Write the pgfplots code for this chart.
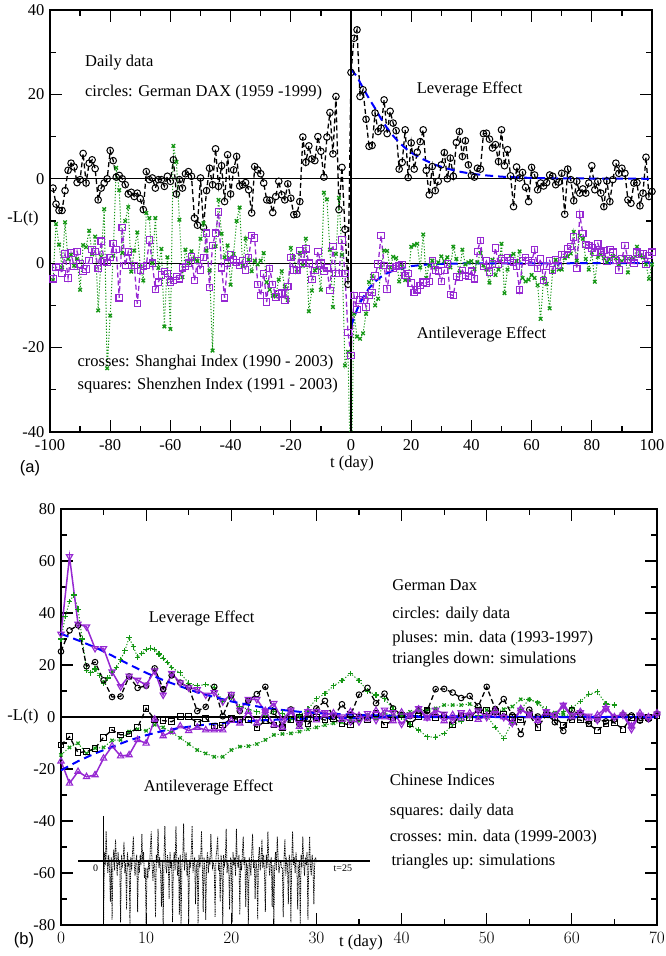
\documentclass[border=0pt]{standalone}
\usepackage{fontspec}
\setmainfont{Liberation Serif}
\newfontfamily\arialfont{Liberation Sans}
\usepackage{pgfplots}
\pgfplotsset{compat=1.18}
\usepackage{pgfplotstable}

\definecolor{grgreen}{RGB}{20,150,20}
\definecolor{grviolet}{RGB}{150,40,210}
\definecolor{grblue}{RGB}{0,0,255}

\pgfplotsset{
  grace/.style={scale only axis, axis line style={line width=1.6pt},
    every tick/.style={black, line width=1.2pt},
    major tick length=12pt, minor tick length=6pt, tick align=inside,
    xtick pos=both, ytick pos=both,
    xticklabel style={yshift=-1.5pt}},
  daxline/.style={black, line width=1.3pt, dash pattern=on 5pt off 3pt,
    mark=o, mark size=3.3pt, mark options={solid, line width=1pt}},
  shline/.style={grgreen, line width=1pt, dash pattern=on 1.2pt off 1.8pt,
    mark=x, mark size=2.5pt, mark options={solid, line width=1.3pt}},
  szline/.style={grviolet, line width=1.3pt, dash pattern=on 5pt off 3pt,
    mark=square, mark size=3.2pt, mark options={solid, line width=1.1pt}},
  fitline/.style={grblue, line width=2pt, dash pattern=on 8pt off 5pt, no marks},
}

% German DAX, daily data
\pgfplotstableread[row sep=\\]{t v\\
-99 -2.2\\ -98 -6\\ -97 -7.5\\ -96 -7.5\\ -95 -2.8\\ -94 2\\ -93 3.7\\ -92 2.8\\ -91 -0.9\\ -90 -0.2\\
-89 6\\ -88 -1\\ -87 3.7\\ -86 4.5\\ -85 2.4\\ -84 -5\\ -83 -2.2\\ -82 -1\\ -81 0\\ -80 6.7\\
-79 4.3\\ -78 0.4\\ -77 0.8\\ -76 0\\ -75 -1.4\\ -74 -3.6\\ -73 -3.2\\ -72 -4.2\\ -71 -3.4\\ -70 -4.7\\
-69 -7.3\\ -68 1.7\\ -67 -0.2\\ -66 0.2\\ -65 -2.2\\ -64 -0.2\\ -63 -0.2\\ -62 -1.8\\ -61 0.6\\ -60 -0.6\\
-59 4.5\\ -58 -3.6\\ -57 -0.2\\ -56 -2.2\\ -55 1.2\\ -54 1.7\\ -53 0.6\\ -52 -9.3\\ -51 -11\\ -50 0.2\\
-49 -11.5\\ -48 -2.8\\ -47 2.5\\ -46 -1.4\\ -45 7.1\\ -44 -1.8\\ -43 3.1\\ -42 -5.4\\ -41 5.7\\ -40 -3.6\\
-39 2.1\\ -38 5.3\\ -37 -1.7\\ -36 -1.4\\ -35 -0.9\\ -34 -2.6\\ -33 -8.1\\ -32 2.9\\ -31 2.1\\ -30 1.2\\
-29 -1\\ -28 -5\\ -27 -5.1\\ -26 -8\\ -25 -4.2\\ -24 -0.6\\ -23 -3.8\\ -22 -5\\ -21 -1.2\\ -20 -4.6\\
-19 -8.5\\ -18 -8.4\\ -17 -5.4\\ -16 9.9\\ -15 3.9\\ -14 7.8\\ -13 4.7\\ -12 4.3\\ -11 10\\ -10 6.5\\
-9 0.4\\ -8 9.9\\ -7 15.7\\ -6 5.9\\ -5 19.5\\ -4 -7.3\\ -3 2.7\\ -2 -12\\ -1 -25\\ 0 25.2\\
1 33.3\\ 2 35.3\\ 3 19.5\\ 4 21.1\\ 5 14.1\\ 6 7.7\\ 7 7.9\\ 8 15.6\\ 9 11.2\\ 10 12\\
11 18.7\\ 12 10.7\\ 13 16\\ 14 13.2\\ 15 11.4\\ 16 2.3\\ 17 3.9\\ 18 11.6\\ 19 0.3\\ 20 8.5\\
21 2.3\\ 22 6.3\\ 23 8.8\\ 24 11.6\\ 25 2\\ 26 -3.8\\ 27 2.9\\ 28 -2.8\\ 29 -0.6\\ 30 3.3\\
31 6.2\\ 32 0\\ 33 4.9\\ 34 0.6\\ 35 8.6\\ 36 11.2\\ 37 5.3\\ 38 9\\ 39 3.3\\ 40 0.8\\
41 0.4\\ 42 2.5\\ 43 2.3\\ 44 10.7\\ 45 10.8\\ 46 9.4\\ 47 7.3\\ 48 8.1\\ 49 4.1\\ 50 11.6\\
51 3.1\\ 52 6.9\\ 53 0.7\\ 54 -6.6\\ 55 2.8\\ 56 0.2\\ 57 1.5\\ 58 -2\\ 59 -5.4\\ 60 2.7\\
61 0.9\\ 62 -2.6\\ 63 -1\\ 64 -1.7\\ 65 -0.9\\ 66 0.9\\ 67 0.6\\ 68 -1.4\\ 69 -0.8\\ 70 1.3\\
71 -8.4\\ 72 2.3\\ 73 -0.2\\ 74 -5.2\\ 75 -0.6\\ 76 -3.4\\ 77 -2.4\\ 78 -3.4\\ 79 -1\\ 80 3.1\\
81 -2.6\\ 82 -0.6\\ 83 -3.4\\ 84 -6.6\\ 85 -0.5\\ 86 -5.4\\ 87 -0.2\\ 88 3.7\\ 89 1.3\\ 90 2.5\\
91 1.3\\ 92 -5\\ 93 -5.8\\ 94 -1\\ 95 -0.9\\ 96 -6.4\\ 97 -3.4\\ 98 5.1\\ 99 -4.2\\ 100 -3\\
}\dax

% Shanghai Index, daily data
\pgfplotstableread[row sep=\\]{t v\\
-99 -4\\ -98 9.3\\ -97 4.4\\ -96 -1\\ -95 9.7\\ -94 1\\ -93 2\\ -92 -0.6\\ -91 1\\ -90 -6.3\\
-89 4.3\\ -88 3.8\\ -87 7.7\\ -86 2.1\\ -85 6.3\\ -84 -11.2\\ -83 1.5\\ -82 12.8\\ -81 -24.9\\ -80 -12.4\\
-79 1.8\\ -78 22.6\\ -77 17.3\\ -76 2.4\\ -75 10\\ -74 13.3\\ -73 -2\\ -72 3\\ -71 7.3\\ -70 -0.8\\
-69 -4.1\\ -68 11.9\\ -67 10.7\\ -66 0\\ -65 10.7\\ -64 -1.1\\ -63 3.4\\ -62 -15\\ -61 1.4\\ -60 -15.6\\
-59 27.8\\ -58 24\\ -57 10.3\\ -56 -3.3\\ -55 3.2\\ -54 0\\ -53 2.8\\ -52 1\\ -51 0.5\\ -50 5.8\\
-49 9.5\\ -48 3\\ -47 -1.7\\ -46 -20.7\\ -45 4\\ -44 15\\ -43 7\\ -42 1.4\\ -41 4.2\\ -40 -5.1\\
-39 2.2\\ -38 10\\ -37 13.2\\ -36 -0.6\\ -35 5.8\\ -34 0.8\\ -33 -1.9\\ -32 0.6\\ -31 -0.3\\ -30 0.6\\
-29 2.4\\ -28 -4.5\\ -27 -6.3\\ -26 -7.7\\ -25 -7.9\\ -24 -3.9\\ -23 -1.9\\ -22 -5.5\\ -21 -8.7\\ -20 3.6\\
-19 1.4\\ -18 -2.1\\ -17 2.4\\ -16 -0.6\\ -15 5.8\\ -14 -11.4\\ -13 -6.5\\ -12 -1.7\\ -11 -1.1\\ -10 -6.3\\
-9 16.7\\ -8 15.1\\ -7 3.2\\ -6 -10.4\\ -5 2.2\\ -4 15.5\\ -3 2\\ -2 -24.2\\ -1 -21\\ 0 -55\\
1 -12\\ 2 -17.4\\ 3 -17.9\\ 4 -16.6\\ 5 -12\\ 6 -4.5\\ 7 -3\\ 8 -10\\ 9 -8.4\\ 10 -1\\
11 3\\ 12 2.9\\ 13 -1\\ 14 1.5\\ 15 1.2\\ 16 -4.3\\ 17 -0.8\\ 18 -4\\ 19 -3.9\\ 20 3.9\\
21 4.3\\ 22 4.6\\ 23 -1\\ 24 6.8\\ 25 -3.5\\ 26 -0.5\\ 27 0.6\\ 28 -1\\ 29 0.2\\ 30 1.6\\
31 0.5\\ 32 1.4\\ 33 -1\\ 34 3.9\\ 35 1\\ 36 -2.2\\ 37 3.2\\ 38 -0.3\\ 39 0.2\\ 40 0.5\\
41 -1.4\\ 42 0.2\\ 43 2.4\\ 44 -0.5\\ 45 -1.5\\ 46 -4.6\\ 47 0.8\\ 48 -2.8\\ 49 -1.5\\ 50 4.6\\
51 -7.1\\ 52 -1.5\\ 53 1.7\\ 54 2.2\\ 55 0.5\\ 56 2.8\\ 57 -3.5\\ 58 -4.3\\ 59 -3.9\\ 60 -2.8\\
61 -3.5\\ 62 -5.2\\ 63 -13.2\\ 64 -3.5\\ 65 -4.9\\ 66 -10.7\\ 67 -2\\ 68 0.8\\ 69 -1.5\\ 70 -1.5\\
71 1.2\\ 72 1.6\\ 73 2.3\\ 74 7.4\\ 75 0.6\\ 76 6.5\\ 77 5.8\\ 78 1\\ 79 -1.5\\ 80 2.5\\
81 -4.4\\ 82 1.5\\ 83 2\\ 84 1.2\\ 85 0.2\\ 86 1\\ 87 1.7\\ 88 1.2\\ 89 -0.3\\ 90 0.5\\
91 1.2\\ 92 -2.2\\ 93 1.1\\ 94 1.2\\ 95 3.9\\ 96 1.8\\ 97 1.4\\ 98 -0.3\\ 99 -3.7\\ 100 -0.3\\
}\shanghai

% Shenzhen Index, daily data
\pgfplotstableread[row sep=\\]{t v\\
-99 -3.7\\ -98 -1\\ -97 -0.8\\ -96 -2.4\\ -95 2.2\\ -94 -3.5\\ -93 2.4\\ -92 -0.8\\ -91 2.8\\ -90 -0.2\\
-89 -2\\ -88 -1.4\\ -87 0.6\\ -86 3.2\\ -85 2.8\\ -84 -1.3\\ -83 5.2\\ -82 0.5\\ -81 0.2\\ -80 1.4\\
-79 4.7\\ -78 3.2\\ -77 -8.2\\ -76 8.4\\ -75 -0.6\\ -74 2.7\\ -73 -0.6\\ -72 -0.6\\ -71 -9.6\\ -70 -1.7\\
-69 -0.8\\ -68 -0.6\\ -67 5.5\\ -66 0\\ -65 -6.2\\ -64 -4.5\\ -63 -2.8\\ -62 -2\\ -61 -2.4\\ -60 -4.5\\
-59 -4.1\\ -58 -3.2\\ -57 -3.7\\ -56 -1.1\\ -55 -0.8\\ -54 0\\ -53 1.6\\ -52 -4.1\\ -51 0.6\\ -50 -1.6\\
-49 1.4\\ -48 7.1\\ -47 -5.8\\ -46 4.2\\ -45 7.1\\ -44 12.1\\ -43 -1.1\\ -42 -8.2\\ -41 0\\ -40 2\\
-39 0.8\\ -38 0.2\\ -37 -0.6\\ -36 0.6\\ -35 -1.6\\ -34 1.2\\ -33 6.6\\ -32 6\\ -31 -5\\ -30 -7.7\\
-29 -2.4\\ -28 -9.2\\ -27 -1.3\\ -26 -5\\ -25 -8\\ -24 -7.3\\ -23 -7.1\\ -22 -8.7\\ -21 -5.5\\ -20 1.3\\
-19 -1.6\\ -18 -1.7\\ -17 3\\ -16 0\\ -15 3.4\\ -14 0\\ -13 -3.9\\ -12 -1.7\\ -11 2.8\\ -10 0\\
-9 -1.9\\ -8 -1.1\\ -7 -6.5\\ -6 4\\ -5 -2.4\\ -4 -2.4\\ -3 5.5\\ -2 -2.4\\ -1 -16.4\\ 0 -21.9\\
1 -7.7\\ 2 -11\\ 3 -8.7\\ 4 -7.7\\ 5 -10.4\\ 6 -7.7\\ 7 -7\\ 8 -3\\ 9 -0.2\\ 10 6.6\\
11 -0.6\\ 12 -6.1\\ 13 -1.3\\ 14 -1.3\\ 15 -0.8\\ 16 -0.6\\ 17 -0.3\\ 18 -2.9\\ 19 -2.4\\ 20 -4.7\\
21 -6.9\\ 22 -6.3\\ 23 -5.3\\ 24 -4.5\\ 25 -4.7\\ 26 -4.3\\ 27 0.6\\ 28 -1.6\\ 29 -1.9\\ 30 -4.3\\
31 -1.7\\ 32 -0.2\\ 33 -7.4\\ 34 -7.7\\ 35 -3.2\\ 36 -3.3\\ 37 -1.7\\ 38 -2.9\\ 39 -3.2\\ 40 -1.9\\
41 -3.7\\ 42 2.8\\ 43 5.4\\ 44 -0.8\\ 45 0.5\\ 46 -2.1\\ 47 -0.2\\ 48 3.6\\ 49 -0.3\\ 50 1\\
51 0.6\\ 52 1.4\\ 53 0.5\\ 54 0.2\\ 55 -0.8\\ 56 -6.3\\ 57 0.5\\ 58 1.4\\ 59 0.6\\ 60 0.2\\
61 3.2\\ 62 -1.3\\ 63 1\\ 64 -4.1\\ 65 -0.8\\ 66 0.6\\ 67 -1.6\\ 68 0.8\\ 69 -0.6\\ 70 2.1\\
71 2.1\\ 72 3.4\\ 73 3.9\\ 74 6.2\\ 75 -1.3\\ 76 11.5\\ 77 7\\ 78 4.4\\ 79 4.2\\ 80 3.6\\
81 2.6\\ 82 4.7\\ 83 2.6\\ 84 3\\ 85 0.5\\ 86 3.2\\ 87 2.6\\ 88 0.6\\ 89 -1.6\\ 90 1\\
91 4.2\\ 92 1\\ 93 0.6\\ 94 0\\ 95 2.6\\ 96 2.2\\ 97 2.2\\ 98 -0.3\\ 99 1.8\\ 100 2.6\\
}\shenzhen

\begin{document}
\fontsize{16.5}{19.8}\selectfont
\begin{tikzpicture}[x=1pt,y=1pt]
\useasboundingbox (0,0) rectangle (666,956);

% ---------------- panel (a) ----------------
\begin{axis}[grace, at={(50pt,524pt)}, anchor=south west,
  width=602pt, height=422pt,
  xmin=-100, xmax=100, ymin=-40, ymax=60,
  xtick={-100,-80,-60,-40,-20,0,20,40,60,80,100},
  xticklabels={-100,-80,-60,-40,-20,0,20,40,60,80,100},
  minor x tick num=1,
  ytick={-40,-20,0,20,40,60}, yticklabels={-40,-20,0,0,20,40},
  minor y tick num=1]
\addplot[black, line width=1.3pt] coordinates {(-100,20) (100,20)};
\addplot[black, line width=1.3pt] coordinates {(-100,0) (100,0)};
\addplot[daxline] table[x=t, y expr=\thisrow{v}+20] {\dax};
\addplot[shline] table[x=t, y=v] {\shanghai};
\addplot[szline] table[x=t, y=v] {\shenzhen};
\addplot[fitline] coordinates {(0,46) (2,44.2) (4,41.5) (6,39) (8,36.7) (10,34.2)
  (12,32) (14,30.2) (16,28.6) (18,27.3) (20,26.2) (24,24.6) (28,23.3) (32,22.4)
  (36,21.7) (40,21.2) (45,20.8) (50,20.5) (60,20.2) (70,20.1) (100,20)};
\addplot[fitline] coordinates {(0,-15) (1,-12.9) (2,-11) (3,-9.45) (4,-8.1)
  (6,-5.95) (8,-4.38) (10,-3.22) (12,-2.37) (15,-1.49) (20,-0.69) (25,-0.32)
  (30,-0.15) (40,-0.03) (100,0)};
\addplot[black, line width=1.8pt] coordinates {(0,-40) (0,60)};
\node[anchor=base west, inner sep=0] at (axis cs:-88.4,46.6) {Daily data};
\node[anchor=base west, inner sep=0] at (axis cs:-88.4,39.6) {circles: German DAX (1959 -1999)};
\node[anchor=base west, inner sep=0] at (axis cs:21.8,40.3) {Leverage Effect};
\node[anchor=base west, inner sep=0] at (axis cs:-90.9,-24.5) {crosses: Shanghai Index (1990 - 2003)};
\node[anchor=base west, inner sep=0] at (axis cs:-90.9,-30) {squares: Shenzhen Index (1991 - 2003)};
\node[anchor=base west, inner sep=0] at (axis cs:21.8,-17.8) {Antileverage Effect};
\end{axis}

% ---------------- panel (b) ----------------
\begin{axis}[grace, at={(61pt,31pt)}, anchor=south west,
  width=596pt, height=416pt,
  xmin=0, xmax=70, ymin=-80, ymax=80,
  xtick={0,10,...,70}, minor x tick num=1,
  ytick={-80,-60,-40,-20,0,20,40,60,80},
  yticklabels={-80,-60,-40,-20,0,20,40,60,80},
  minor y tick num=1]
\addplot[black, line width=1.3pt] coordinates {(0,0) (70,0)};
% inset: intraday series over 25 days, drawn at x = 5 ... 30
\addplot[black, line width=0.75pt, dash pattern=on 1pt off 0.7pt] coordinates {
(5,-80) (5.1,-52) (5.2,-57) (5.3,-44) (5.4,-55) (5.5,-60) (5.6,-53) (5.7,-58) (5.8,-71) (5.9,-54)
(6,-78) (6.1,-56) (6.2,-51) (6.3,-59) (6.4,-47) (6.5,-54) (6.6,-61) (6.7,-52) (6.8,-57) (6.9,-55)
(7,-79) (7.1,-53) (7.2,-58) (7.3,-55) (7.4,-48) (7.5,-60) (7.6,-56) (7.7,-74) (7.8,-52) (7.9,-57)
(8,-56) (8.1,-80) (8.2,-54) (8.3,-59) (8.4,-52) (8.5,-46) (8.6,-57) (8.7,-61) (8.8,-55) (8.9,-53)
(9,-75) (9.1,-55) (9.2,-60) (9.3,-53) (9.4,-57) (9.5,-45) (9.6,-56) (9.7,-52) (9.8,-62) (9.9,-58)
(10,-80) (10.1,-58) (10.2,-62) (10.3,-55) (10.4,-59) (10.5,-50) (10.6,-44) (10.7,-57) (10.8,-63) (10.9,-56)
(11,-57) (11.1,-77) (11.2,-53) (11.3,-56) (11.4,-43) (11.5,-58) (11.6,-54) (11.7,-60) (11.8,-73) (11.9,-55)
(12,-80) (12.1,-54) (12.2,-42) (12.3,-57) (12.4,-60) (12.5,-53) (12.6,-56) (12.7,-70) (12.8,-52) (12.9,-58)
(13,-55) (13.1,-79) (13.2,-56) (13.3,-52) (13.4,-59) (13.5,-42) (13.6,-55) (13.7,-61) (13.8,-54) (13.9,-76)
(14,-53) (14.1,-80) (14.2,-57) (14.3,-54) (14.4,-41) (14.5,-59) (14.6,-55) (14.7,-52) (14.8,-61) (14.9,-56)
(15,-79) (15.1,-55) (15.2,-58) (15.3,-52) (15.4,-42) (15.5,-60) (15.6,-56) (15.7,-54) (15.8,-72) (15.9,-57)
(16,-56) (16.1,-80) (16.2,-53) (16.3,-58) (16.4,-55) (16.5,-44) (16.6,-57) (16.7,-75) (16.8,-54) (16.9,-59)
(17,-78) (17.1,-56) (17.2,-52) (17.3,-60) (17.4,-55) (17.5,-57) (17.6,-45) (17.7,-53) (17.8,-58) (17.9,-56)
(18,-58) (18.1,-77) (18.2,-54) (18.3,-51) (18.4,-46) (18.5,-59) (18.6,-56) (18.7,-71) (18.8,-53) (18.9,-57)
(19,-80) (19.1,-53) (19.2,-57) (19.3,-55) (19.4,-43) (19.5,-60) (19.6,-56) (19.7,-58) (19.8,-74) (19.9,-54)
(20,-55) (20.1,-79) (20.2,-52) (20.3,-57) (20.4,-54) (20.5,-61) (20.6,-43) (20.7,-56) (20.8,-58) (20.9,-53)
(21,-76) (21.1,-55) (21.2,-59) (21.3,-53) (21.4,-46) (21.5,-57) (21.6,-54) (21.7,-73) (21.8,-56) (21.9,-58)
(22,-80) (22.1,-54) (22.2,-57) (22.3,-61) (22.4,-52) (22.5,-45) (22.6,-58) (22.7,-55) (22.8,-70) (22.9,-56)
(23,-57) (23.1,-78) (23.2,-54) (23.3,-50) (23.4,-59) (23.5,-55) (23.6,-47) (23.7,-58) (23.8,-53) (23.9,-60)
(24,-75) (24.1,-53) (24.2,-58) (24.3,-44) (24.4,-55) (24.5,-61) (24.6,-56) (24.7,-54) (24.8,-73) (24.9,-57)
(25,-80) (25.1,-56) (25.2,-52) (25.3,-59) (25.4,-46) (25.5,-54) (25.6,-60) (25.7,-57) (25.8,-55) (25.9,-58)
(26,-58) (26.1,-77) (26.2,-54) (26.3,-47) (26.4,-61) (26.5,-55) (26.6,-57) (26.7,-72) (26.8,-53) (26.9,-56)
(27,-79) (27.1,-55) (27.2,-44) (27.3,-57) (27.4,-54) (27.5,-60) (27.6,-52) (27.7,-56) (27.8,-74) (27.9,-58)
(28,-55) (28.1,-80) (28.2,-53) (28.3,-58) (28.4,-46) (28.5,-56) (28.6,-61) (28.7,-54) (28.8,-57) (28.9,-52)
(29,-78) (29.1,-56) (29.2,-46) (29.3,-58) (29.4,-61) (29.5,-53) (29.6,-57) (29.7,-72) (29.8,-55) (29.9,-54)
(30,-56)};
\addplot[black, line width=1.2pt] coordinates {(2,-55.4) (36.3,-55.4)};
\addplot[black, line width=1.2pt] coordinates {(5,-38) (5,-80)};
% DAX minute data (pluses)
\addplot[grgreen, line width=1pt, dash pattern=on 1.2pt off 1.8pt, mark=+, mark size=2.8pt,
  mark options={solid, line width=1.2pt}] coordinates {
(0,30) (0.5,38.6) (1,44.4) (1.5,46.9) (2,41.5) (2.5,30) (3,18) (3.5,17) (4,18.5) (4.5,16)
(5,13) (5.5,15) (6,17) (6.5,19) (7,22) (7.5,25.5) (8,30.5) (8.5,27) (9,23) (9.5,24.5)
(10,26) (10.5,26.5) (11,26) (11.5,24.2) (12,22.6) (12.5,21) (13,19) (14,17) (15,13) (16,12)
(17,12.5) (18,11.5) (19,6) (20,7.5) (21,4) (22,3) (23,2) (24,0.5) (25,2) (26,1.5)
(27,-1) (28,0.5) (29,3) (30,7) (31,9) (32,12) (33,14) (34,16.8) (35,14) (36,10)
(37,8.5) (38,7) (39,3) (40,0) (41,-3) (42,-5) (43,-7.6) (44,-7.8) (45,-6.3) (46,-3)
(47,-1.5) (48,0) (49,0.5) (50,0.5) (51,-4) (52,-8.2) (53,-2) (54,3) (55,6.8) (56,5.5)
(57,3) (58,0) (59,2) (60,3.5) (61,6) (62,8.8) (63,9.7) (64,5) (65,4.6)};
% Chinese minute data (crosses)
\addplot[grgreen, line width=1pt, dash pattern=on 1.2pt off 1.8pt, mark=x, mark size=2.3pt,
  mark options={solid, line width=1.2pt}] coordinates {
(0,-14.6) (1,-11.7) (2,-10.1) (3,-14) (4,-12) (5,-11.7) (6,-9) (7,-8.8) (8,-5.6) (9,-4.7)
(10,-5.3) (11,-3) (12,-4) (13,-6) (14,-8) (15,-10.4) (16,-12.7) (17,-14) (18,-15.3) (19,-15.3)
(20,-12.7) (21,-11.4) (22,-11.2) (23,-10.4) (24,-8.8) (25,-6.9) (26,-6.5) (27,-6.3) (28,-5.6) (29,-4.7)
(30,-4) (31,-3.1) (32,-2.4) (33,-2) (34,-1) (35,-1.5) (36,0.5) (37,-0.5) (38,1.5) (39,0.5)
(40,1) (41,2) (42,2.5) (43,3) (44,3.3) (45,4.6) (46,4.6) (47,4.6) (48,5) (49,3.3)
(50,2.7) (51,2) (52,3) (53,4) (54,6.8) (55,6.8) (56,5.5) (57,2) (58,1.7) (59,1) (60,0.5)};
% DAX daily (circles)
\addplot[black, line width=1.3pt, dash pattern=on 5pt off 3pt, mark=o, mark size=2.8pt,
  mark options={solid, line width=1pt}, restrict x to domain=0:70] table[x=t, y=v] {\dax};
% Chinese daily (squares)
\addplot[black, line width=1.3pt, dash pattern=on 5pt off 3pt, mark=square, mark size=2.8pt,
  mark options={solid, line width=1pt}] coordinates {
(0,-10.8) (1,-7.6) (2,-13.7) (3,-13.3) (4,-12.1) (5,-7.8) (6,-5) (7,-6.9) (8,-6.5) (9,-4)
(10,3.3) (11,-0.9) (12,-1.4) (13,-1.8) (14,0.1) (15,0.1) (16,-2.2) (17,-0.5) (18,-3.5) (19,-3.1)
(20,-0.5) (21,-0.9) (22,-1.2) (23,-4) (24,-1.4) (25,-3.1) (26,-4) (27,-0.9) (28,-0.1) (29,-2.7)
(30,-0.1) (31,-1.2) (32,-0.5) (33,-2.4) (34,-3.1) (35,-0.1) (36,-1.2) (37,1.4) (38,-3.1) (39,-1.2)
(40,0.8) (41,-2.7) (42,0.1) (43,2.7) (44,-0.1) (45,0.8) (46,-3.1) (47,1.4) (48,-0.1) (49,2.7)
(50,2.4) (51,2.1) (52,1.2) (53,-0.1) (54,-1.2) (55,0.8) (56,-4) (57,0.8) (58,-0.1) (59,-3.1)
(60,-0.9) (61,-1.2) (62,-2.7) (63,-5.3) (64,-2.4) (65,-2.2) (66,-4.7) (67,-0.1) (68,-0.9) (69,-0.1) (70,0.4)};
% simulations, triangles down
\addplot[grviolet, line width=1.5pt, mark=triangle, mark size=3.6pt,
  mark options={solid, rotate=180, line width=1.1pt}] coordinates {
(0,31.9) (1,61.7) (2,35.8) (3,34.7) (4,26.4) (5,26.4) (6,17.4) (7,11.7) (8,15.8) (9,14.2)
(10,12.3) (11,17.8) (12,8.5) (13,16.8) (14,13.2) (15,11.3) (16,10.6) (17,8.5) (18,9.4) (19,5.9)
(20,8.8) (21,2.7) (22,6.8) (23,6.8) (24,2.1) (25,5.3) (26,-1.2) (27,2.7) (28,-2.4) (29,2.1)
(30,2.1) (31,1.7) (32,0.8) (33,0.1) (34,-1.8) (35,-1.8) (36,1.4) (37,-1.2) (38,2.7) (39,1.7)
(40,-2.7) (41,0.8) (42,3.3) (43,-0.1) (44,2.7) (45,1.2) (46,-1.2) (47,1.7) (48,0.8) (49,2.4)
(50,-0.1) (51,1.4) (52,-0.1) (53,-2.4) (54,2.7) (55,1.2) (56,-1.2) (57,2.1) (58,0.8) (59,4.6)
(60,0.8) (61,1.7) (62,0.4) (63,-1.2) (64,3.3) (65,-0.1) (66,0.8) (67,-4.7) (68,0.8) (69,-0.5) (70,1.2)};
% simulations, triangles up
\addplot[grviolet, line width=1.5pt, mark=triangle, mark size=3.6pt,
  mark options={solid, line width=1.1pt}] coordinates {
(0,-17) (1,-25.5) (2,-21) (3,-23) (4,-22.3) (5,-15.9) (6,-11.2) (7,-15) (8,-14.6) (9,-8.8)
(10,-10.1) (11,-0.9) (12,-7.3) (13,-5.6) (14,-3.5) (15,-5.3) (16,-4) (17,-5) (18,-5) (19,-5)
(20,-1.4) (21,-2.4) (22,2.1) (23,-2.4) (24,2.4) (25,-3.1) (26,-4) (27,2.1) (28,-3.7) (29,2.1)
(30,-1.2) (31,0.8) (32,1.5) (33,-1) (34,2) (35,0.5) (36,-0.8) (37,2.4) (38,0) (39,-1.5)
(40,1.8) (41,0.5) (42,3) (43,-0.5) (44,1.2) (45,-1.5) (46,0.8) (47,-0.5) (48,1.5) (49,-1)
(50,0.5) (51,2.5) (52,0) (53,-2) (54,3.1) (55,0.5) (56,-1.4) (57,1.5) (58,0.5) (59,4.2)
(60,0) (61,2) (62,-0.5) (63,0.8) (64,3.5) (65,0) (66,1.2) (67,-3.5) (68,1.5) (69,0) (70,1.5)};
% fits
\addplot[fitline] coordinates {(0,32) (2,29.5) (4,26.8) (6,23.6) (8,20.2) (10,17) (12,14.2)
  (14,11.8) (16,9.5) (18,7.7) (20,6) (22,4.7) (24,3.5) (26,2.7) (28,2) (30,1.5) (35,0.8)
  (40,0.4) (50,0.1) (70,0)};
\addplot[fitline] coordinates {(0,-20.5) (2,-17) (4,-14) (6,-11.5) (8,-9) (10,-7) (12,-5.3)
  (14,-4.2) (16,-3.3) (18,-2.6) (20,-2) (24,-1.2) (28,-0.7) (32,-0.4) (40,-0.1) (70,0)};
\node[anchor=base west, inner sep=0] at (axis cs:10.3,36.4) {Leverage Effect};
\node[anchor=base west, inner sep=0] at (axis cs:38.9,48.6) {German Dax};
\node[anchor=base west, inner sep=0] at (axis cs:38.9,38) {circles: daily data};
\node[anchor=base west, inner sep=0] at (axis cs:38.9,28.6) {pluses: min. data (1993-1997)};
\node[anchor=base west, inner sep=0] at (axis cs:38.9,20.4) {triangles down: simulations};
\node[anchor=base west, inner sep=0] at (axis cs:9.7,-28.7) {Antileverage Effect};
\node[anchor=base west, inner sep=0] at (axis cs:38.6,-26.2) {Chinese Indices};
\node[anchor=base west, inner sep=0] at (axis cs:38.6,-37.7) {squares: daily data};
\node[anchor=base west, inner sep=0] at (axis cs:38.6,-48) {crosses: min. data (1999-2003)};
\node[anchor=base west, inner sep=0] at (axis cs:38.8,-57.2) {triangles up: simulations};
\node[anchor=base west, inner sep=0, font=\fontsize{10}{12}\selectfont] at (axis cs:3.76,-59.5) {0};
\node[anchor=base west, inner sep=0, font=\fontsize{10}{12}\selectfont] at (axis cs:32,-59.5) {t=25};
\end{axis}

% labels outside the axes
\node at (23,737) {-L(t)};
\node at (23,239) {-L(t)};
\node at (352,492) {t (day)};
\node at (361,13) {t (day)};
\node[font=\arialfont] at (30,488) {(a)};
\node[font=\arialfont] at (24,16) {(b)};
\end{tikzpicture}
\end{document}
